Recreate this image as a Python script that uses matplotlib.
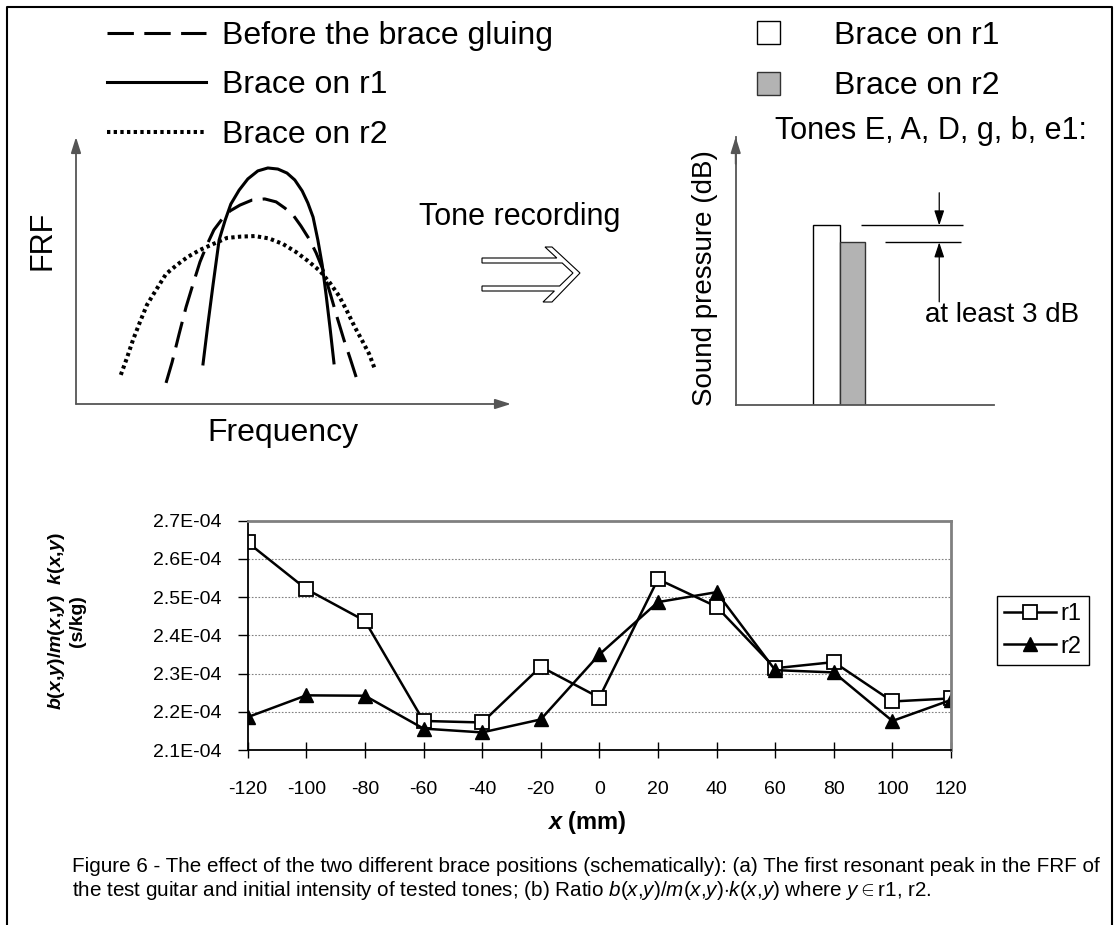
import matplotlib
matplotlib.use('Agg')
import matplotlib.pyplot as plt
from matplotlib.patches import Polygon

plt.rcParams['font.family'] = ['Liberation Sans', 'DejaVu Sans']
plt.rcParams['mathtext.fontset'] = 'custom'
plt.rcParams['mathtext.rm'] = 'Liberation Sans'
plt.rcParams['mathtext.it'] = 'Liberation Sans:italic'
plt.rcParams['mathtext.bf'] = 'Liberation Sans:bold'
plt.rcParams['mathtext.bfit'] = 'Liberation Sans:italic:bold'
plt.rcParams['lines.scale_dashes'] = False

# ---- (a) schematic FRF curves (arbitrary units 0..100) ----
freq_r1 = [29.2, 30.3, 31.5, 32.9, 34.3, 35.6, 37.5, 39.5, 41.8, 44.1, 46.4,
           48.5, 50.3, 52.0, 53.3, 54.5, 55.6, 56.6, 57.5, 58.4, 59.3]
frf_r1 = [15.0, 29.6, 44.6, 61.4, 68.9, 74.9, 80.1, 84.3, 87.3, 88.4, 88.0,
          86.5, 83.9, 79.8, 75.3, 70.0, 61.4, 52.1, 40.8, 28.5, 15.4]
freq_before = [20.7, 22.1, 23.7, 25.3, 26.9, 28.5, 30.1, 31.7, 33.6, 35.4, 37.7, 40.5,
               43.4, 46.0, 48.0, 49.9, 51.7, 53.6, 55.2, 56.8, 58.4, 60.0, 61.6, 63.0, 64.4]
frf_before = [7.9, 15.7, 26.2, 36.3, 44.9, 53.2, 59.6, 65.2, 69.3, 72.3, 74.5, 76.4,
              76.8, 75.7, 73.4, 70.8, 66.7, 61.8, 56.6, 50.2, 41.6, 32.6, 24.0, 17.2, 10.1]
freq_r2 = [10.3, 11.7, 13.1, 14.7, 16.3, 18.4, 20.7, 23.2, 25.7, 28.5, 31.5, 34.7, 37.9,
           41.1, 44.4, 47.6, 50.6, 53.3, 56.1, 58.4, 60.5, 62.3, 64.1, 65.7, 67.4, 68.7]
frf_r2 = [10.9, 17.2, 24.0, 30.7, 37.1, 42.7, 48.7, 52.1, 55.1, 57.7, 59.9, 62.2, 62.7,
          62.9, 62.0, 59.9, 56.9, 53.6, 49.8, 45.3, 40.4, 34.8, 28.8, 24.0, 18.7, 13.1]

# schematic tone levels (arbitrary units)
bar_pos = [35.2, 45.3]
bar_level = [67.0, 60.7]
bar_labels = ['Brace on r1', 'Brace on r2']

# ---- (b) measured ratio ----
x_mm = [-120, -100, -80, -60, -40, -20, 0, 20, 40, 60, 80, 100, 120]
ratio_r1 = [2.643e-4, 2.521e-4, 2.438e-4, 2.176e-4, 2.172e-4, 2.318e-4, 2.237e-4,
            2.547e-4, 2.475e-4, 2.314e-4, 2.330e-4, 2.227e-4, 2.235e-4]
ratio_r2 = [2.186e-4, 2.243e-4, 2.242e-4, 2.156e-4, 2.146e-4, 2.180e-4, 2.350e-4,
            2.487e-4, 2.513e-4, 2.309e-4, 2.303e-4, 2.176e-4, 2.231e-4]

W, H = 1118, 925
fig = plt.figure(figsize=(W / 100, H / 100), dpi=100)


def fx(px):
    return px / W


def fy(py):
    return 1 - py / H


# background layer: frame and the hollow double arrow
bg = fig.add_axes([0, 0, 1, 1])
bg.set_xlim(0, W)
bg.set_ylim(H, 0)
bg.axis('off')
bg.plot([7, 7, 1112, 1112], [925, 7, 7, 925], color='black', lw=1.5)
arrow_shape = [(482, 258), (556.8, 258), (545, 247), (552, 247), (580, 273), (552, 302),
               (543, 302), (554.4, 291), (482, 291), (482, 286), (559.6, 286), (573, 273),
               (562.2, 263), (482, 263)]
bg.add_patch(Polygon(arrow_shape, closed=True, facecolor='white', edgecolor='black', lw=0.8))

# ---------- FRF schematic ----------
ax1 = fig.add_axes([fx(76), fy(404), (511 - 76) / W, (404 - 137) / H])
ax1.set_xlim(0, 100)
ax1.set_ylim(0, 100)
ax1.axis('off')
arr = dict(arrowstyle='-|>,head_length=0.95,head_width=0.3', color='#555555', lw=1.3,
           shrinkA=0, shrinkB=0, mutation_scale=10)
ax1.annotate('', xy=(1, 0), xytext=(0, 0), xycoords='axes fraction', arrowprops=arr)
ax1.annotate('', xy=(0, 1), xytext=(0, 0), xycoords='axes fraction', arrowprops=arr)
ax1.plot(freq_before, frf_before, color='black', lw=2.2, dashes=(19, 7.5), label='Before the brace gluing')
ax1.plot(freq_r1, frf_r1, color='black', lw=2.2, label='Brace on r1')
ax1.plot(freq_r2, frf_r2, color='black', lw=2.9, linestyle=(0, (2.4, 2.4)), label='Brace on r2')
ax1.legend(loc='upper left', bbox_to_anchor=(fx(107), fy(21)), bbox_transform=fig.transFigure,
           frameon=False, fontsize=23, handlelength=3.1, handletextpad=0.5, labelspacing=0.61,
           borderpad=0, borderaxespad=0)
fig.text(fx(42), fy(240), 'FRF', rotation=90, fontsize=22, ha='center', va='center')
fig.text(fx(283), fy(433), 'Frequency', fontsize=23, ha='center', va='center')
fig.text(fx(520), fy(217), 'Tone recording', fontsize=22, ha='center', va='center')

# ---------- tone level schematic ----------
ax2 = fig.add_axes([fx(735.7), fy(405), (994 - 735.7) / W, (405 - 137) / H])
ax2.set_xlim(0, 100)
ax2.set_ylim(0, 100)
ax2.set_xticks([])
ax2.set_yticks([])
for s in ['top', 'right']:
    ax2.spines[s].set_visible(False)
for s in ['left', 'bottom']:
    ax2.spines[s].set_color('#555555')
    ax2.spines[s].set_linewidth(1.3)
ax2.patch.set_alpha(0)
ax2.annotate('', xy=(0, 1), xytext=(0, 0.9), xycoords='axes fraction', arrowprops=arr)
bars = ax2.bar(bar_pos, bar_level, width=[10.6, 9.6], color=['white', '#b3b3b3'],
               edgecolor=['black', '#333333'], lw=1.0)
ax2.hlines(bar_level[0], 48.5, 87.9, color='black', lw=1.0)
ax2.hlines(bar_level[1], 57.7, 87.1, color='black', lw=1.0)
small = dict(arrowstyle='-|>,head_length=0.9,head_width=0.3', color='black', lw=0.9,
             shrinkA=0, shrinkB=0, mutation_scale=10)
ax2.annotate('', xy=(78.8, bar_level[0]), xytext=(78.8, 79.2), arrowprops=small)
ax2.annotate('', xy=(78.8, bar_level[1]), xytext=(78.8, 38.5), arrowprops=small)
ax2.text(103, 33.6, 'at least 3 dB', fontsize=20, ha='center', va='center')
ax2.legend([bars[0], bars[1]], bar_labels, loc='upper left', bbox_to_anchor=(fx(757), fy(21)),
           bbox_transform=fig.transFigure, frameon=False, fontsize=23, handlelength=0.72,
           handleheight=0.72, handletextpad=1.7, labelspacing=0.64, borderpad=0, borderaxespad=0)
fig.text(fx(705), fy(278), 'Sound pressure (dB)', rotation=90, fontsize=20, ha='center', va='center')
fig.text(fx(775), fy(131), 'Tones E, A, D, g, b, e1:', fontsize=22, ha='left', va='center')

# ---------- measured ratio ----------
ax3 = fig.add_axes([fx(247.7), fy(750), (951 - 247.7) / W, (750 - 520.7) / H])
ax3.plot(x_mm, ratio_r1, color='black', lw=1.8, marker='s', markersize=10.5,
         markerfacecolor='white', markeredgecolor='black', markeredgewidth=1.3, label='r1')
ax3.plot(x_mm, ratio_r2, color='black', lw=1.8, marker='^', markersize=10.5,
         markerfacecolor='black', markeredgecolor='black', label='r2')
ax3.set_xlim(-120, 120)
ax3.set_ylim(2.1e-4, 2.7e-4)
ax3.set_xticks(x_mm)
ax3.set_xticklabels([str(v) for v in x_mm])
yt = [2.1e-4, 2.2e-4, 2.3e-4, 2.4e-4, 2.5e-4, 2.6e-4, 2.7e-4]
ax3.set_yticks(yt)
ax3.set_yticklabels(['%.1E' % v for v in yt])
ax3.tick_params(axis='x', direction='inout', length=12, width=1, labelsize=14, pad=16)
ax3.tick_params(axis='y', direction='out', length=7, width=1, labelsize=14, pad=12)
ax3.grid(axis='y', color='#808080', lw=0.8, linestyle=(0, (1.2, 1.2)))
ax3.set_axisbelow(True)
for s in ['left', 'bottom']:
    ax3.spines[s].set_color('black')
    ax3.spines[s].set_linewidth(1.3)
for s in ['top', 'right']:
    ax3.spines[s].set_color('#808080')
    ax3.spines[s].set_linewidth(2)
leg = ax3.legend(loc='upper left', bbox_to_anchor=(fx(997), fy(596)), bbox_transform=fig.transFigure,
                 fontsize=17, frameon=True, fancybox=False, framealpha=1, edgecolor='black',
                 handlelength=2.2, handletextpad=0.2, borderpad=0.3, labelspacing=0.45, borderaxespad=0)
leg.get_frame().set_linewidth(1.0)

fig.text(fx(66), fy(621),
         r'$\mathbfit{b}$($\mathbfit{x}$,$\mathbfit{y}$)/$\mathbfit{m}$($\mathbfit{x}$,$\mathbfit{y}$)  '
         r'$\mathbfit{k}$($\mathbfit{x}$,$\mathbfit{y}$)' + '\n(s/kg)',
         rotation=90, fontsize=14, fontweight='bold', ha='center', va='center', multialignment='center')
fig.text(fx(587), fy(823), r'$\mathbfit{x}$ (mm)', fontsize=17, fontweight='bold', ha='center', va='center')

cap1 = ('Figure 6 - The effect of the two different brace positions (schematically): (a) The first '
        'resonant peak in the FRF of')
cap2 = (r'the test guitar and initial intensity of tested tones; (b) Ratio '
        r'$b$($x$,$y$)/$m$($x$,$y$)$\cdot$$k$($x$,$y$) where $y$$\in$r1, r2.')
fig.text(fx(72), fy(867), cap1, fontsize=14.85, va='center', ha='left')
fig.text(fx(72), fy(890), cap2, fontsize=14.85, va='center', ha='left')

fig.savefig('out.png', dpi=100)
